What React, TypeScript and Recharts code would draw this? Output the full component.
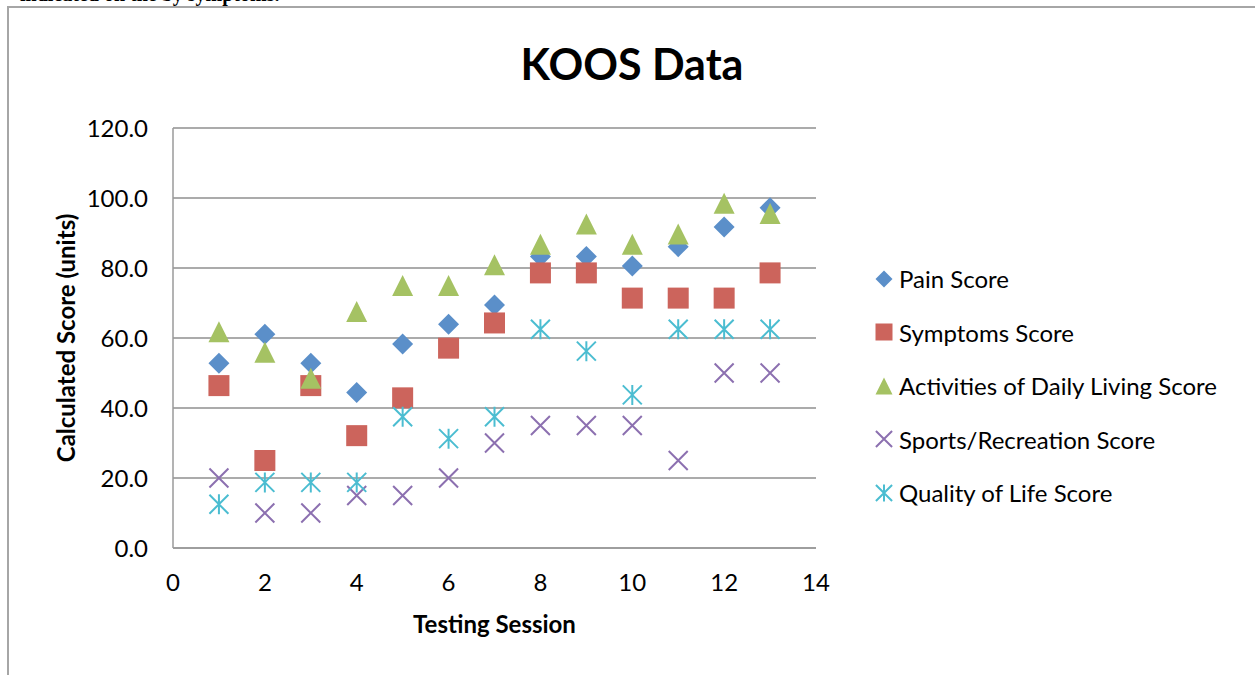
import { CartesianGrid, Legend, Scatter, ScatterChart, XAxis, YAxis } from "recharts"

const sessions = [1, 2, 3, 4, 5, 6, 7, 8, 9, 10, 11, 12, 13]
const painScore = [52.8, 61.1, 52.8, 44.4, 58.3, 63.9, 69.4, 83.3, 83.3, 80.6, 86.1, 91.7, 97.2]
const symptomsScore = [46.4, 25.0, 46.4, 32.1, 42.9, 57.1, 64.3, 78.6, 78.6, 71.4, 71.4, 71.4, 78.6]
const adlScore = [61.8, 55.9, 48.5, 67.6, 75.0, 75.0, 80.9, 86.8, 92.6, 86.8, 89.7, 98.5, 95.6]
const sportsScore = [20, 10, 10, 15, 15, 20, 30, 35, 35, 35, 25, 50, 50]
const qolScore = [12.5, 18.75, 18.75, 18.75, 37.5, 31.25, 37.5, 62.5, 56.25, 43.75, 62.5, 62.5, 62.5]
const xTicks = [0, 2, 4, 6, 8, 10, 12, 14]
const yTicks = [0, 20, 40, 60, 80, 100, 120]

type Kind = "diamond" | "square" | "triangle" | "x" | "star"

const series: { name: string; values: number[]; kind: Kind; color: string }[] = [
  { name: "Pain Score", values: painScore, kind: "diamond", color: "#5b8fc9" },
  { name: "Symptoms Score", values: symptomsScore, kind: "square", color: "#cc645c" },
  { name: "Activities of Daily Living Score", values: adlScore, kind: "triangle", color: "#a5c263" },
  { name: "Sports/Recreation Score", values: sportsScore, kind: "x", color: "#8c70b0" },
  { name: "Quality of Life Score", values: qolScore, kind: "star", color: "#4bbdd1" },
]

const FONT = "Lato, 'Open Sans', sans-serif"

function marker(kind: Kind, cx: number, cy: number, r: number, color: string) {
  if (kind === "diamond")
    return <path d={`M${cx},${cy - r}L${cx + r},${cy}L${cx},${cy + r}L${cx - r},${cy}Z`} fill={color} />
  if (kind === "square")
    return <rect x={cx - r} y={cy - r} width={2 * r} height={2 * r} fill={color} />
  if (kind === "triangle")
    return <path d={`M${cx},${cy - r}L${cx + r},${cy + r}L${cx - r},${cy + r}Z`} fill={color} />
  const d = r * 0.95
  const x = `M${cx - d},${cy - d}L${cx + d},${cy + d}M${cx - d},${cy + d}L${cx + d},${cy - d}`
  const v = kind === "star" ? `M${cx},${cy - r}L${cx},${cy + r}` : ""
  return <path d={x + v} stroke={color} strokeWidth={2} fill="none" />
}

function LegendBox() {
  return (
    <div style={{ fontFamily: FONT, fontSize: 24, color: "#000" }}>
      {series.map((s) => (
        <div key={s.name} style={{ display: "flex", alignItems: "center", height: 53.5 }}>
          <svg width={22} height={22} style={{ marginRight: 4 }}>
            {marker(s.kind, 11, 11, 8.5, s.color)}
          </svg>
          <span>{s.name}</span>
        </div>
      ))}
    </div>
  )
}

export default function App() {
  return (
    <div style={{ position: "absolute", left: 0, top: 0, width: 1255, height: 675, overflow: "hidden", background: "#fff" }}>
      <div
        style={{
          position: "absolute",
          left: 20,
          top: -17,
          fontFamily: "'Liberation Serif', serif",
          fontWeight: "bold",
          fontSize: 20,
          whiteSpace: "nowrap",
        }}
      >
        indicated on the by symptoms.
      </div>
      <div
        style={{
          position: "absolute",
          left: 7,
          top: 6,
          width: 1300,
          height: 700,
          borderLeft: "2px solid #a6a6a6",
          borderTop: "2px solid #a6a6a6",
        }}
      />
      <div
        style={{
          position: "absolute",
          left: 0,
          top: 38,
          width: 1264,
          textAlign: "center",
          fontFamily: FONT,
          fontWeight: "bold",
          fontSize: 43,
        }}
      >
        KOOS Data
      </div>
      <div style={{ position: "absolute", left: 0, top: 0 }}>
        <ScatterChart width={1255} height={675} margin={{ top: 128, right: 439, bottom: 0, left: 0 }}>
          <CartesianGrid horizontal vertical={false} stroke="#8f8f8f" strokeWidth={1.5} />
          <XAxis
            type="number"
            dataKey="session"
            domain={[0, 14]}
            ticks={xTicks}
            allowDataOverflow
            height={127}
            tickLine={false}
            tickSize={0}
            tickMargin={26}
            axisLine={{ stroke: "#9a9a9a", strokeWidth: 1.5 }}
            tick={{ fill: "#000", fontSize: 24, fontFamily: FONT }}
            label={{
              value: "Testing Session",
              position: "insideTop",
              offset: 68,
              fill: "#000",
              fontSize: 24,
              fontWeight: "bold",
              fontFamily: FONT,
            }}
          />
          <YAxis
            type="number"
            dataKey="score"
            domain={[0, 120]}
            ticks={yTicks}
            width={173}
            tickLine={false}
            tickSize={0}
            tickMargin={25}
            tickFormatter={(v: number) => v.toFixed(1)}
            axisLine={{ stroke: "#9a9a9a", strokeWidth: 1.5 }}
            tick={{ fill: "#000", fontSize: 24, fontFamily: FONT }}
            label={(props: any) => {
              const vb = props.viewBox || { x: 0, y: 128, width: 173, height: 420 }
              const cx = vb.x + 65
              const cy = vb.y + vb.height / 2
              return (
                <text
                  x={cx}
                  y={cy}
                  transform={`rotate(-90 ${cx} ${cy})`}
                  textAnchor="middle"
                  dominantBaseline="central"
                  fontFamily={FONT}
                  fontSize={24}
                  fontWeight="bold"
                  fill="#000"
                >
                  Calculated Score (units)
                </text>
              )
            }}
          />
          <Legend
            verticalAlign="middle"
            align="center"
            layout="horizontal"
            content={() => <LegendBox />}
            wrapperStyle={{ left: 873, top: 252, width: 380, height: 270 }}
          />
          {series.map((s) => (
            <Scatter
              key={s.name}
              name={s.name}
              data={sessions.map((x, i) => ({ session: x, score: s.values[i] }))}
              isAnimationActive={false}
              shape={(p: any) => marker(s.kind, p.cx, p.cy, s.kind === "x" || s.kind === "star" ? 10 : 10.5, s.color)}
            />
          ))}
        </ScatterChart>
      </div>
    </div>
  )
}
